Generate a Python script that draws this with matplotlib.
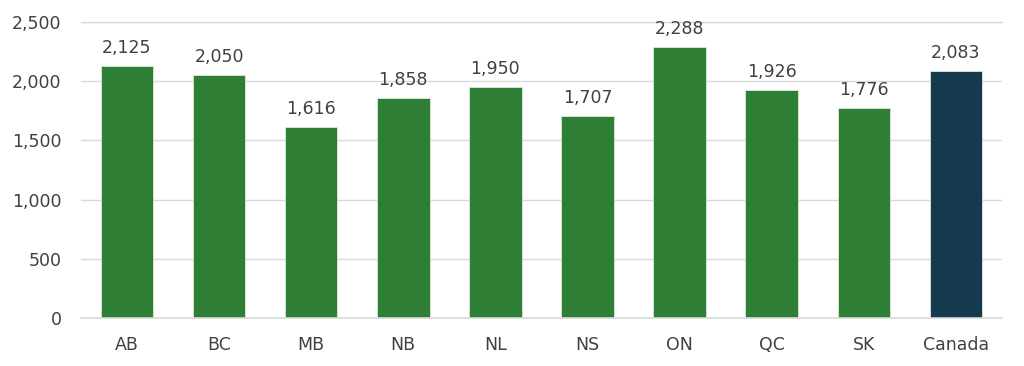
import matplotlib
matplotlib.use('Agg')
import matplotlib.pyplot as plt
from matplotlib.ticker import FuncFormatter

regions = ['AB', 'BC', 'MB', 'NB', 'NL', 'NS', 'ON', 'QC', 'SK', 'Canada']
values = [2125, 2050, 1616, 1858, 1950, 1707, 2288, 1926, 1776, 2083]
y_ticks = [0, 500, 1000, 1500, 2000, 2500]

green = '#2e7f35'
navy = '#15394d'
text_col = '#404040'

plt.rcParams['font.family'] = ['DejaVu Sans']

fig = plt.figure(figsize=(10.24, 3.66), dpi=100)
ax = fig.add_axes([0.079, 0.131, 0.8995, 0.809])

colors = [navy if r == 'Canada' else green for r in regions]
x = range(len(regions))
bars = ax.bar(x, values, width=0.57, color=colors, edgecolor='#dfe8df', linewidth=0.6, zorder=3)

for b, v in zip(bars, values):
    ax.text(b.get_x() + b.get_width() / 2, v + 75, f'{v:,}', ha='center', va='bottom',
            fontsize=12.5, color=text_col)

ax.set_xlim(-0.5, len(regions) - 0.5)
ax.set_ylim(0, 2500)
ax.set_yticks(y_ticks)
ax.yaxis.set_major_formatter(FuncFormatter(lambda v, p: f'{int(v):,}'))
ax.set_xticks(list(x))
ax.set_xticklabels(regions)
ax.grid(axis='y', color='#d9d9d9', linewidth=1, zorder=0)
ax.axhline(0, color='#d9d9d9', linewidth=1.2, zorder=4, clip_on=False)
ax.axhline(2500, color='#d9d9d9', linewidth=1, zorder=0, clip_on=False)
for s in ax.spines.values():
    s.set_visible(False)
ax.tick_params(length=0, labelsize=12.5, colors=text_col)
ax.tick_params(axis='x', pad=13)
ax.tick_params(axis='y', pad=14)

fig.savefig('out.png', dpi=100)
